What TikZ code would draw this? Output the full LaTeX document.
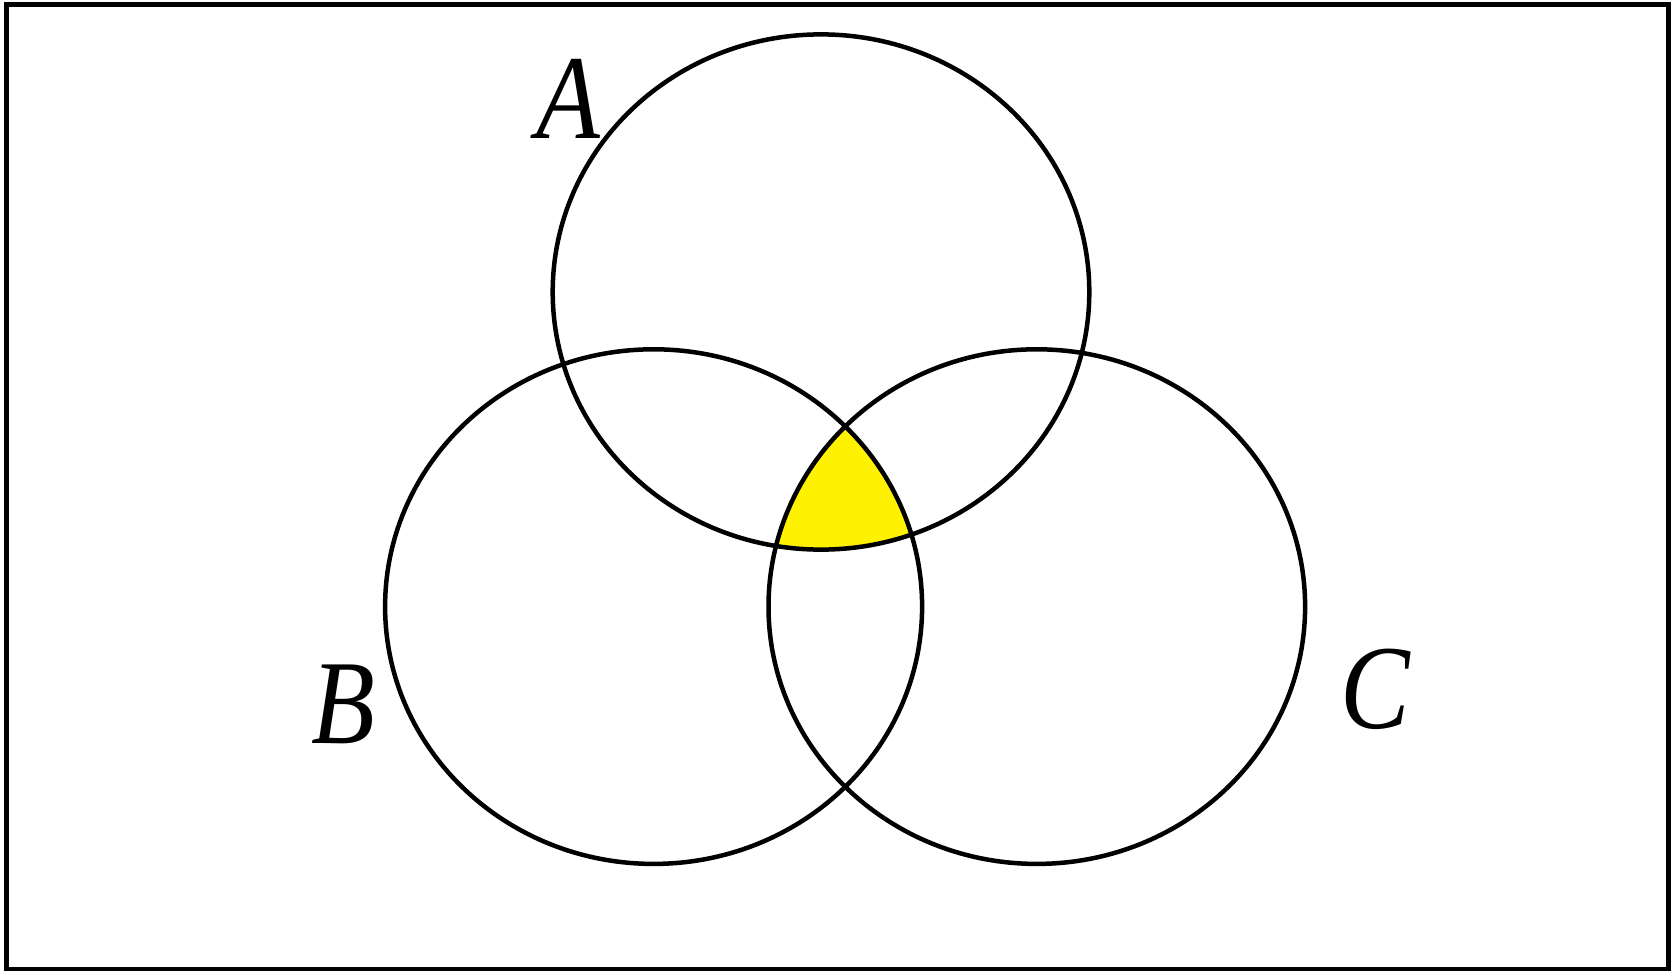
\documentclass[tikz,border=0pt]{standalone}
\usepackage{fontspec}
\setmainfont{Liberation Serif}
\begin{document}
\begin{tikzpicture}[x=1pt,y=-1pt,
  setline/.style={draw=black,line width=4.5pt},
  setlabel/.style={font=\fontsize{120}{120}\selectfont\itshape,inner sep=0pt,xscale=0.87}]
\useasboundingbox (0,0) rectangle (1676,971);
\draw[line width=5pt] (6,5) rectangle (1668.5,969);
\coordinate (ca) at (821,292);
\coordinate (cb) at (653.6,606.6);
\coordinate (cc) at (1036.8,606.6);
\begin{scope}
  \clip (ca) ellipse [x radius=268.3pt, y radius=257.6pt];
  \clip (cb) ellipse [x radius=268.5pt, y radius=257.3pt];
  \fill[yellow] (cc) ellipse [x radius=268.3pt, y radius=257.3pt];
\end{scope}
\draw[setline] (ca) ellipse [x radius=268.3pt, y radius=257.6pt];
\draw[setline] (cb) ellipse [x radius=268.5pt, y radius=257.3pt];
\draw[setline] (cc) ellipse [x radius=268.3pt, y radius=257.3pt];
\node[setlabel] (la) at (568,98.5) {A};
\node[setlabel] (lb) at (343,704) {B};
\node[setlabel] (lc) at (1375,689.5) {C};
\end{tikzpicture}
\end{document}
